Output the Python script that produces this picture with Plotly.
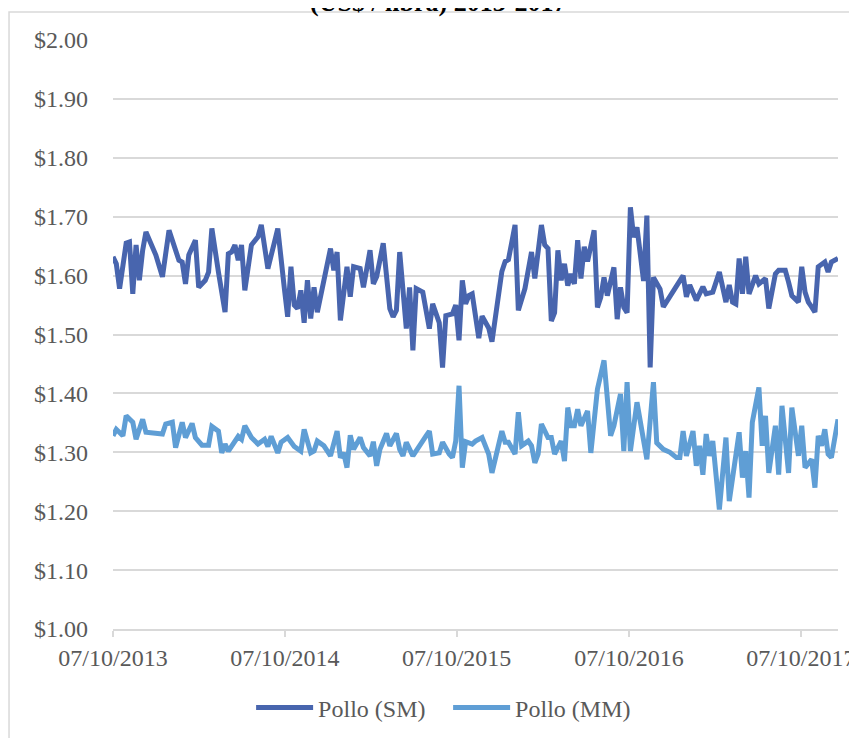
import datetime as dt
import plotly.graph_objects as go

# weekly report number since 07/10/2013 and price (US$ / libra)
sm_week = [0, 1, 2, 3, 4, 5, 6, 7, 8, 9, 10, 13, 15, 17, 20, 21, 22, 23, 25, 26,
           28, 29, 30, 32, 34, 35, 36, 37, 38, 39, 40, 42, 44, 45, 47, 49, 50, 52, 53, 54,
           55, 56, 57, 58, 59, 60, 61, 62, 63, 66, 67, 68, 69, 70, 71, 72, 73, 75, 76, 78,
           79, 80, 82, 84, 85, 86, 87, 89, 90, 91, 92, 94, 95, 96, 97, 99, 100, 101, 103, 104,
           105, 106, 107, 108, 109, 111, 112, 114, 115, 118, 119, 120, 122, 123, 125, 127, 128, 130, 131, 132,
           133, 134, 135, 136, 137, 138, 139, 140, 141, 142, 143, 144, 146, 147, 148, 149, 150, 152, 153, 154,
           155, 156, 157, 158, 159, 161, 162, 163, 164, 166, 167, 169, 171, 173, 174, 175, 177, 179, 180, 182,
           184, 186, 187, 188, 189, 190, 191, 192, 193, 195, 196, 198, 199, 201, 202, 204, 205, 206, 208, 209,
           210, 211, 212, 213, 214, 216, 217, 218, 220]
sm_price = [1.632, 1.620, 1.578, 1.623, 1.655, 1.657, 1.569, 1.652, 1.592, 1.643, 1.674, 1.635, 1.598, 1.677, 1.626, 1.623, 1.586, 1.635, 1.660, 1.580,
            1.592, 1.606, 1.680, 1.606, 1.538, 1.637, 1.640, 1.652, 1.626, 1.652, 1.575, 1.652, 1.666, 1.686, 1.612, 1.657, 1.680, 1.578, 1.530, 1.615,
            1.550, 1.544, 1.575, 1.520, 1.592, 1.527, 1.580, 1.538, 1.566, 1.646, 1.609, 1.640, 1.524, 1.566, 1.615, 1.564, 1.615, 1.612, 1.580, 1.643,
            1.586, 1.598, 1.655, 1.544, 1.530, 1.541, 1.640, 1.510, 1.580, 1.473, 1.578, 1.572, 1.538, 1.510, 1.552, 1.520, 1.444, 1.532, 1.535, 1.550,
            1.490, 1.592, 1.552, 1.566, 1.569, 1.494, 1.531, 1.511, 1.488, 1.607, 1.624, 1.627, 1.686, 1.541, 1.578, 1.640, 1.595, 1.686, 1.652, 1.646,
            1.523, 1.537, 1.643, 1.592, 1.620, 1.583, 1.603, 1.586, 1.660, 1.595, 1.649, 1.624, 1.677, 1.546, 1.563, 1.597, 1.566, 1.614, 1.526, 1.580,
            1.546, 1.537, 1.716, 1.665, 1.682, 1.591, 1.702, 1.444, 1.597, 1.577, 1.547, 1.566, 1.581, 1.600, 1.564, 1.584, 1.558, 1.581, 1.569, 1.572,
            1.606, 1.555, 1.584, 1.555, 1.552, 1.629, 1.569, 1.632, 1.569, 1.600, 1.586, 1.595, 1.544, 1.603, 1.609, 1.609, 1.589, 1.566, 1.555, 1.615,
            1.572, 1.555, 1.547, 1.538, 1.615, 1.623, 1.606, 1.623, 1.629]

mm_week = [0, 1, 3, 4, 6, 7, 9, 10, 15, 16, 18, 19, 21, 22, 24, 25, 27, 29, 30, 32,
           33, 34, 35, 38, 39, 40, 42, 44, 46, 47, 48, 50, 51, 53, 55, 57, 58, 60, 61, 62,
           64, 66, 68, 69, 70, 71, 72, 73, 75, 76, 78, 79, 80, 81, 83, 84, 86, 87, 88, 89,
           91, 94, 95, 96, 97, 99, 100, 102, 103, 104, 105, 106, 107, 109, 110, 112, 114, 115, 118, 119,
           120, 122, 123, 124, 126, 127, 128, 129, 130, 132, 133, 134, 136, 137, 138, 139, 140, 141, 142, 144,
           145, 147, 149, 151, 152, 154, 155, 156, 157, 159, 162, 164, 165, 167, 169, 171, 172, 173, 174, 176,
           177, 178, 179, 180, 181, 182, 184, 186, 187, 190, 191, 192, 193, 194, 196, 197, 198, 199, 201, 202,
           203, 205, 206, 208, 209, 210, 212, 213, 214, 215, 216, 217, 218, 220]
mm_price = [1.328, 1.339, 1.328, 1.362, 1.351, 1.322, 1.356, 1.334, 1.331, 1.348, 1.351, 1.308, 1.351, 1.325, 1.349, 1.325, 1.312, 1.312, 1.344, 1.336,
            1.299, 1.314, 1.302, 1.327, 1.322, 1.345, 1.325, 1.314, 1.322, 1.310, 1.327, 1.299, 1.317, 1.325, 1.310, 1.302, 1.339, 1.299, 1.302, 1.319,
            1.311, 1.294, 1.336, 1.291, 1.299, 1.274, 1.329, 1.305, 1.325, 1.308, 1.294, 1.318, 1.277, 1.305, 1.332, 1.311, 1.332, 1.305, 1.294, 1.317,
            1.294, 1.317, 1.328, 1.336, 1.297, 1.299, 1.317, 1.297, 1.291, 1.319, 1.413, 1.274, 1.318, 1.314, 1.319, 1.325, 1.297, 1.265, 1.336, 1.317,
            1.317, 1.297, 1.368, 1.311, 1.319, 1.311, 1.282, 1.297, 1.348, 1.325, 1.325, 1.297, 1.319, 1.285, 1.376, 1.345, 1.345, 1.373, 1.345, 1.370,
            1.299, 1.407, 1.456, 1.328, 1.345, 1.399, 1.302, 1.419, 1.302, 1.385, 1.288, 1.419, 1.316, 1.305, 1.300, 1.291, 1.291, 1.336, 1.294, 1.336,
            1.277, 1.311, 1.262, 1.331, 1.294, 1.319, 1.203, 1.325, 1.217, 1.334, 1.257, 1.302, 1.223, 1.351, 1.410, 1.311, 1.362, 1.265, 1.345, 1.262,
            1.379, 1.265, 1.376, 1.294, 1.345, 1.274, 1.288, 1.240, 1.328, 1.311, 1.339, 1.297, 1.291, 1.356]

start = dt.date(2013, 10, 7)
tick_dates = [dt.date(y, 10, 7) for y in range(2013, 2018)]

sm_dates = [start + dt.timedelta(weeks=w) for w in sm_week]
mm_dates = [start + dt.timedelta(weeks=w) for w in mm_week]

font = "Liberation Serif"
grey = "#595959"
grid = "#D9D9D9"

fig = go.Figure()
fig.add_trace(go.Scatter(x=sm_dates, y=sm_price, mode="lines", name="Pollo (SM)",
                         line=dict(color="#4865AE", width=5)))
fig.add_trace(go.Scatter(x=mm_dates, y=mm_price, mode="lines", name="Pollo (MM)",
                         line=dict(color="#5F9ED5", width=5)))

fig.update_layout(
    width=857, height=738,
    margin=dict(l=105, r=27, t=32, b=117, autoexpand=False),
    paper_bgcolor="white", plot_bgcolor="white",
    font=dict(family=font, size=24, color=grey),
    legend=dict(orientation="h", x=0.1905, xanchor="left", y=-0.134, yanchor="middle",
                font=dict(family=font, size=24, color=grey), itemwidth=57,
                entrywidth=125, entrywidthmode="pixels", tracegroupgap=0),
    showlegend=True,
)
# title sits mostly above the page edge, as in the source image
fig.add_annotation(text="<b>(US$ / libra) 2013-2017</b>", xref="paper", yref="paper",
                   x=0.448, y=1.0645, xanchor="center", yanchor="middle", showarrow=False,
                   font=dict(family=font, size=26, color="black"))
fig.update_xaxes(range=[start, sm_dates[-1]], tickvals=tick_dates,
                 ticktext=[d.strftime("%d/%m/%Y") for d in tick_dates],
                 showgrid=False, showline=True, linecolor=grid, linewidth=1.5,
                 ticks="outside", tickcolor=grid, ticklen=6, tickwidth=1.5,
                 automargin=False)
fig.update_yaxes(range=[1.0, 2.0], dtick=0.1, tickformat="$.2f", showgrid=True,
                 gridcolor=grid, gridwidth=1.5, zeroline=False, showline=False,
                 ticklabelstandoff=24, automargin=False)

# outer chart frame
fig.add_shape(type="rect", xref="paper", yref="paper", x0=-0.1434, x1=1.06, y0=-0.2, y1=1.0475,
              line=dict(color=grid, width=1.5), layer="below")

fig.write_html("out.html")
